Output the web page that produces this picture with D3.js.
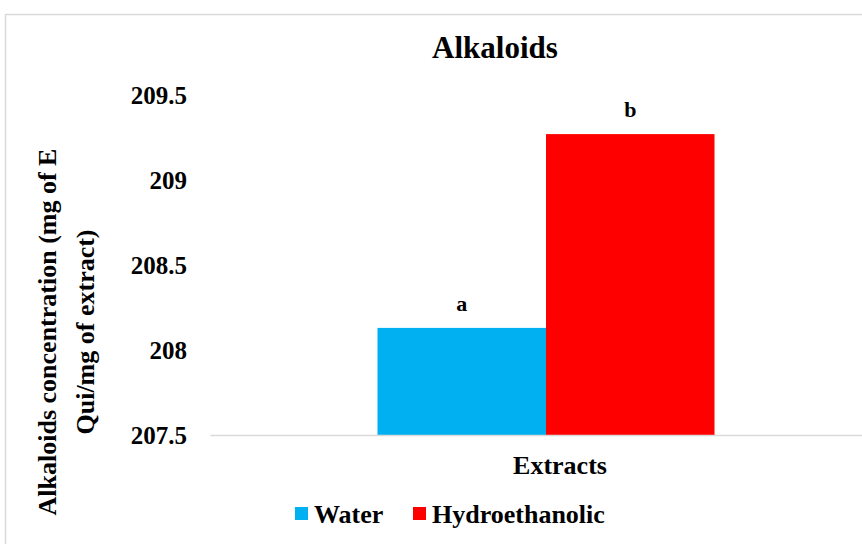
<!DOCTYPE html>
<html><head><meta charset="utf-8">
<script src="https://cdn.jsdelivr.net/npm/d3@7"></script>
<style>
html,body{margin:0;padding:0;background:#fff;}
svg{display:block;}
svg text{font-family:"Liberation Serif","Times New Roman",serif !important;font-weight:bold;fill:#000;}
</style></head>
<body>
<script>
const categories = ["Extracts"];
const seriesNames = ["Water", "Hydroethanolic"];
const seriesValues = [208.13, 209.27];
const seriesLetters = ["a", "b"];
const seriesColors = ["#00b0f0", "#ff0000"];
const yTicks = [207.5, 208, 208.5, 209, 209.5];

const W = 862, H = 544;
const FONT = "Liberation Serif, Times New Roman, serif";
const svg = d3.select("body").append("svg").attr("width", W).attr("height", H);

// chart border
svg.append("rect").attr("x", 5.5).attr("y", 14.5).attr("width", 900).attr("height", 600)
  .attr("fill", "none").attr("stroke", "#d9d9d9").attr("stroke-width", 1.5);

const plot = {left: 210, right: 882, top: 95, bottom: 435};

const y = d3.scaleLinear().domain([207.5, 209.5]).range([plot.bottom, plot.top]);
const x0 = d3.scaleBand().domain(categories).range([plot.left, plot.right]).padding(0.332);
const x1 = d3.scaleBand().domain(seriesNames).range([0, x0.bandwidth()]).padding(0);

// y axis (labels only)
const yAxis = d3.axisLeft(y).tickValues(yTicks).tickSize(0).tickPadding(0)
  .tickFormat(d => String(d));
const yg = svg.append("g").attr("transform", `translate(187,0)`).call(yAxis)
  .attr("font-family", FONT).attr("font-size", 25).attr("font-weight", "bold");
yg.select(".domain").remove();
yg.selectAll("text").attr("dy", "0.35em").attr("font-family", FONT);

// bars
const g = svg.append("g");
categories.forEach(cat => {
  seriesNames.forEach((s, i) => {
    g.append("rect")
      .attr("x", x0(cat) + x1(s))
      .attr("y", y(seriesValues[i]))
      .attr("width", x1.bandwidth())
      .attr("height", y(207.5) - y(seriesValues[i]))
      .attr("fill", seriesColors[i]);
    g.append("text")
      .attr("x", x0(cat) + x1(s) + x1.bandwidth() / 2)
      .attr("y", y(seriesValues[i]) - 17)
      .attr("text-anchor", "middle")
      .style("font-size", "22px")
      .text(seriesLetters[i]);
  });
});

// baseline axis
const xAxis = d3.axisBottom(x0).tickSize(0).tickFormat("");
const xg = svg.append("g").attr("transform", `translate(0,${plot.bottom})`).call(xAxis);
xg.select(".domain").attr("stroke", "#d9d9d9").attr("stroke-width", 1.5);

// x axis title
svg.append("text").attr("x", x0("Extracts") + x0.bandwidth() / 2 + 14).attr("y", 474)
  .attr("text-anchor", "middle").style("font-size", "26px").text("Extracts");

// title
svg.append("text").attr("x", 495).attr("y", 58).attr("text-anchor", "middle")
  .style("font-size", "31px").text("Alkaloids");

// y axis title (two lines)
const yt = svg.append("text").attr("transform", "translate(0,332) rotate(-90)")
  .attr("text-anchor", "middle").style("font-size", "26px");
yt.append("tspan").attr("x", 0).attr("y", 56).text("Alkaloids concentration (mg of E");
yt.append("tspan").attr("x", 0).attr("y", 94).text("Qui/mg of extract)");

// legend
const legend = svg.append("g");
const legendItems = [{x: 295}, {x: 413}];
seriesNames.forEach((s, i) => {
  legend.append("rect").attr("x", legendItems[i].x).attr("y", 507).attr("width", 13).attr("height", 13)
    .attr("fill", seriesColors[i]);
  legend.append("text").attr("x", legendItems[i].x + 19).attr("y", 523)
    .style("font-size", "26px").text(s);
});
</script>
</body></html>
